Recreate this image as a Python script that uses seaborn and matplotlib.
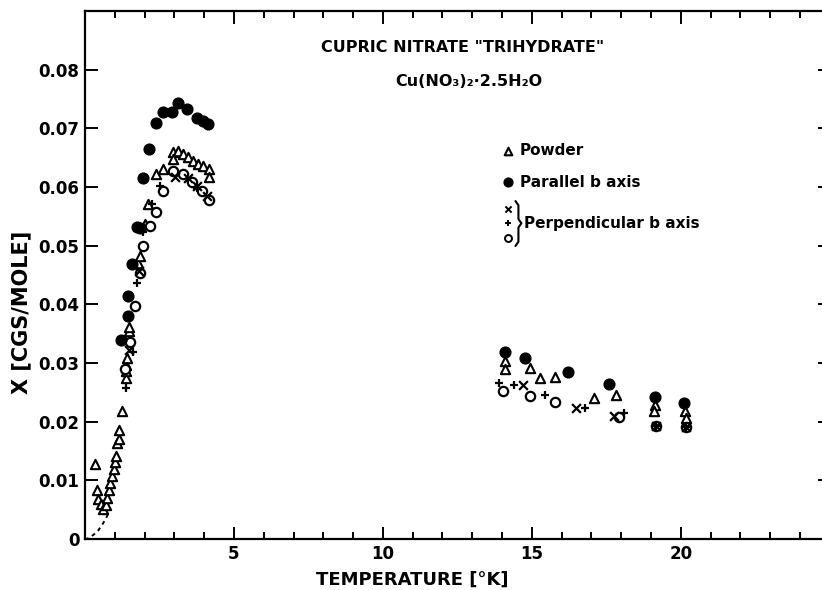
import numpy as np
import matplotlib
matplotlib.use("Agg")
import matplotlib.pyplot as plt
import seaborn as sns

# Powder (open triangles)
powder_T = [0.34, 0.39, 0.45, 0.53, 0.61, 0.71, 0.75, 0.81, 0.84, 0.90, 0.97, 1.01,
            1.04, 1.08, 1.14, 1.14, 1.23, 1.37, 1.38, 1.38, 1.40, 1.45, 1.47, 1.48,
            1.79, 1.85, 2.01, 2.13, 2.40, 2.63, 2.96, 2.96, 3.13, 3.30, 3.47, 3.64,
            3.80, 3.97, 4.17, 4.17,
            14.1, 14.1, 14.95, 15.27, 15.77, 17.08, 17.84, 19.13, 19.09, 20.13, 20.19]
powder_chi = [0.0128, 0.0083, 0.0068, 0.0059, 0.0052, 0.0058, 0.0070, 0.0084, 0.0096,
              0.0108, 0.0120, 0.0132, 0.0141, 0.0164, 0.0170, 0.0185, 0.0219, 0.0275,
              0.0286, 0.0297, 0.0309, 0.0345, 0.0354, 0.0362, 0.0470, 0.0483, 0.0537,
              0.0571, 0.0622, 0.0631, 0.0659, 0.0648, 0.0662, 0.0656, 0.0651, 0.0645,
              0.0639, 0.0636, 0.0631, 0.0617,
              0.0303, 0.0289, 0.0292, 0.0275, 0.0277, 0.0240, 0.0246, 0.0229, 0.0218,
              0.0218, 0.0206]

# Parallel b axis (filled circles)
par_T = [1.21, 1.45, 1.45, 1.57, 1.76, 1.85, 1.94, 2.16, 2.37, 2.63, 2.91, 3.13, 3.41,
         3.77, 3.95, 4.14,
         14.1, 14.77, 16.2, 17.6, 19.13, 20.1]
par_chi = [0.0340, 0.0380, 0.0415, 0.0468, 0.0531, 0.0530, 0.0615, 0.0664, 0.0709,
           0.0728, 0.0727, 0.0744, 0.0733, 0.0717, 0.0713, 0.0708,
           0.0318, 0.0309, 0.0284, 0.0265, 0.0242, 0.0231]

# Perpendicular b axis: open circles, crosses, plus signs
circ_T = [1.34, 1.51, 1.68, 1.85, 1.96, 2.18, 2.40, 2.63, 2.96, 3.30, 3.58, 3.92, 4.17,
          14.04, 14.93, 15.77, 17.93, 19.18, 20.17]
circ_chi = [0.0289, 0.0335, 0.0397, 0.0454, 0.0500, 0.0534, 0.0557, 0.0594, 0.0628,
            0.0622, 0.0608, 0.0594, 0.0577,
            0.0252, 0.0244, 0.0233, 0.0208, 0.0193, 0.0191]

cross_T = [1.49, 1.81, 3.02, 3.47, 3.75, 4.08,
           14.7, 16.48, 17.75, 19.18, 20.17]
cross_chi = [0.0323, 0.0457, 0.0617, 0.0615, 0.0602, 0.0585,
             0.0262, 0.0223, 0.0209, 0.0193, 0.0191]

plus_T = [1.38, 1.60, 1.73, 1.96, 2.24, 2.52, 3.75,
          13.9, 14.4, 15.44, 16.78, 18.09, 19.18, 20.17]
plus_chi = [0.0258, 0.0318, 0.0437, 0.0523, 0.0571, 0.0602, 0.0598,
            0.0266, 0.0263, 0.0246, 0.0223, 0.0214, 0.0193, 0.0191]

# dashed low temperature curve
curve_T = [0.0, 0.06, 0.28, 0.45, 0.61, 0.73, 0.81]
curve_chi = [0.0, 0.0, 0.0007, 0.0015, 0.0027, 0.0038, 0.0047]

sns.set_style("ticks")
plt.rcParams['font.family'] = ['DejaVu Sans']
plt.rcParams['font.weight'] = 'bold'
plt.rcParams['text.color'] = 'black'
plt.rcParams['axes.labelcolor'] = 'black'

fig = plt.figure(figsize=(8.22, 5.90), dpi=100)
ax = fig.add_axes([0.1034, 0.0864, 0.906, 0.895])

sns.lineplot(x=curve_T, y=curve_chi, ax=ax, color="black", linestyle=(0, (2, 2)),
             linewidth=1.4, sort=False)
sns.scatterplot(x=powder_T, y=powder_chi, ax=ax, marker="^", s=45,
                facecolor="white", edgecolor="black", linewidth=1.5, zorder=3)
sns.scatterplot(x=circ_T, y=circ_chi, ax=ax, marker="o", s=45,
                facecolor="white", edgecolor="black", linewidth=1.6, zorder=3)
sns.scatterplot(x=par_T, y=par_chi, ax=ax, marker="o", s=60,
                color="black", edgecolor="black", linewidth=1, zorder=4)
sns.scatterplot(x=cross_T, y=cross_chi, ax=ax, marker="x", s=40,
                color="black", linewidth=1.6, zorder=4)
sns.scatterplot(x=plus_T, y=plus_chi, ax=ax, marker="+", s=40,
                color="black", linewidth=1.6, zorder=4)

ax.set_xlim(0, 25)
ax.set_ylim(0, 0.09)
ax.set_xticks([5, 10, 15, 20])
ax.set_xticks(np.arange(1, 25), minor=True)
ax.set_yticks(np.arange(0, 0.081, 0.01))
ax.set_yticklabels(["0"] + ["0.0%d" % i for i in range(1, 9)])
ax.tick_params(which="both", direction="in", top=True, right=True, width=1.4,
               labelsize=12, pad=4, colors="black")
ax.tick_params(which="major", length=9)
ax.tick_params(which="minor", length=5)
for side in ax.spines.values():
    side.set_linewidth(1.6)
    side.set_color("black")

ax.set_xlabel("TEMPERATURE [°K]", fontsize=13, fontweight="bold", labelpad=6)
ax.xaxis.set_label_coords(0.44, -0.06)
ax.set_ylabel("X [CGS/MOLE]", fontsize=15, fontweight="bold")
ax.yaxis.set_label_coords(-0.072, 0.43)

# title block
ax.text(0.507, 0.93, 'CUPRIC NITRATE "TRIHYDRATE"', transform=ax.transAxes,
        ha="center", va="center", fontsize=11.5, fontweight="bold")
ax.text(0.515, 0.867, "Cu(NO₃)₂·2.5H₂O", transform=ax.transAxes,
        ha="center", va="center", fontsize=11.5, fontweight="bold")

# legend drawn by hand
lx = 0.568
ax.scatter([lx], [0.735], transform=ax.transAxes, marker="^", s=30,
           facecolor="white", edgecolor="black", linewidth=1.5, clip_on=False)
ax.text(lx + 0.016, 0.735, "Powder", transform=ax.transAxes, va="center",
        fontsize=11, fontweight="bold")
ax.scatter([lx], [0.676], transform=ax.transAxes, marker="o", s=40,
           color="black", clip_on=False)
ax.text(lx + 0.016, 0.676, "Parallel b axis", transform=ax.transAxes, va="center",
        fontsize=11, fontweight="bold")
ax.scatter([lx], [0.625], transform=ax.transAxes, marker="x", s=20,
           color="black", linewidth=1.4, clip_on=False)
ax.scatter([lx], [0.598], transform=ax.transAxes, marker="+", s=20,
           color="black", linewidth=1.4, clip_on=False)
ax.scatter([lx], [0.570], transform=ax.transAxes, marker="o", s=25,
           facecolor="white", edgecolor="black", linewidth=1.4, clip_on=False)
# curly bracket
bx = lx + 0.010
ax.plot([bx, bx + 0.004, bx + 0.004, bx + 0.008, bx + 0.004, bx + 0.004, bx],
        [0.640, 0.632, 0.606, 0.598, 0.590, 0.563, 0.555],
        transform=ax.transAxes, color="black", linewidth=1.5, clip_on=False)
ax.text(lx + 0.022, 0.598, "Perpendicular b axis", transform=ax.transAxes,
        va="center", fontsize=11, fontweight="bold")

fig.savefig("out.png", dpi=100)
